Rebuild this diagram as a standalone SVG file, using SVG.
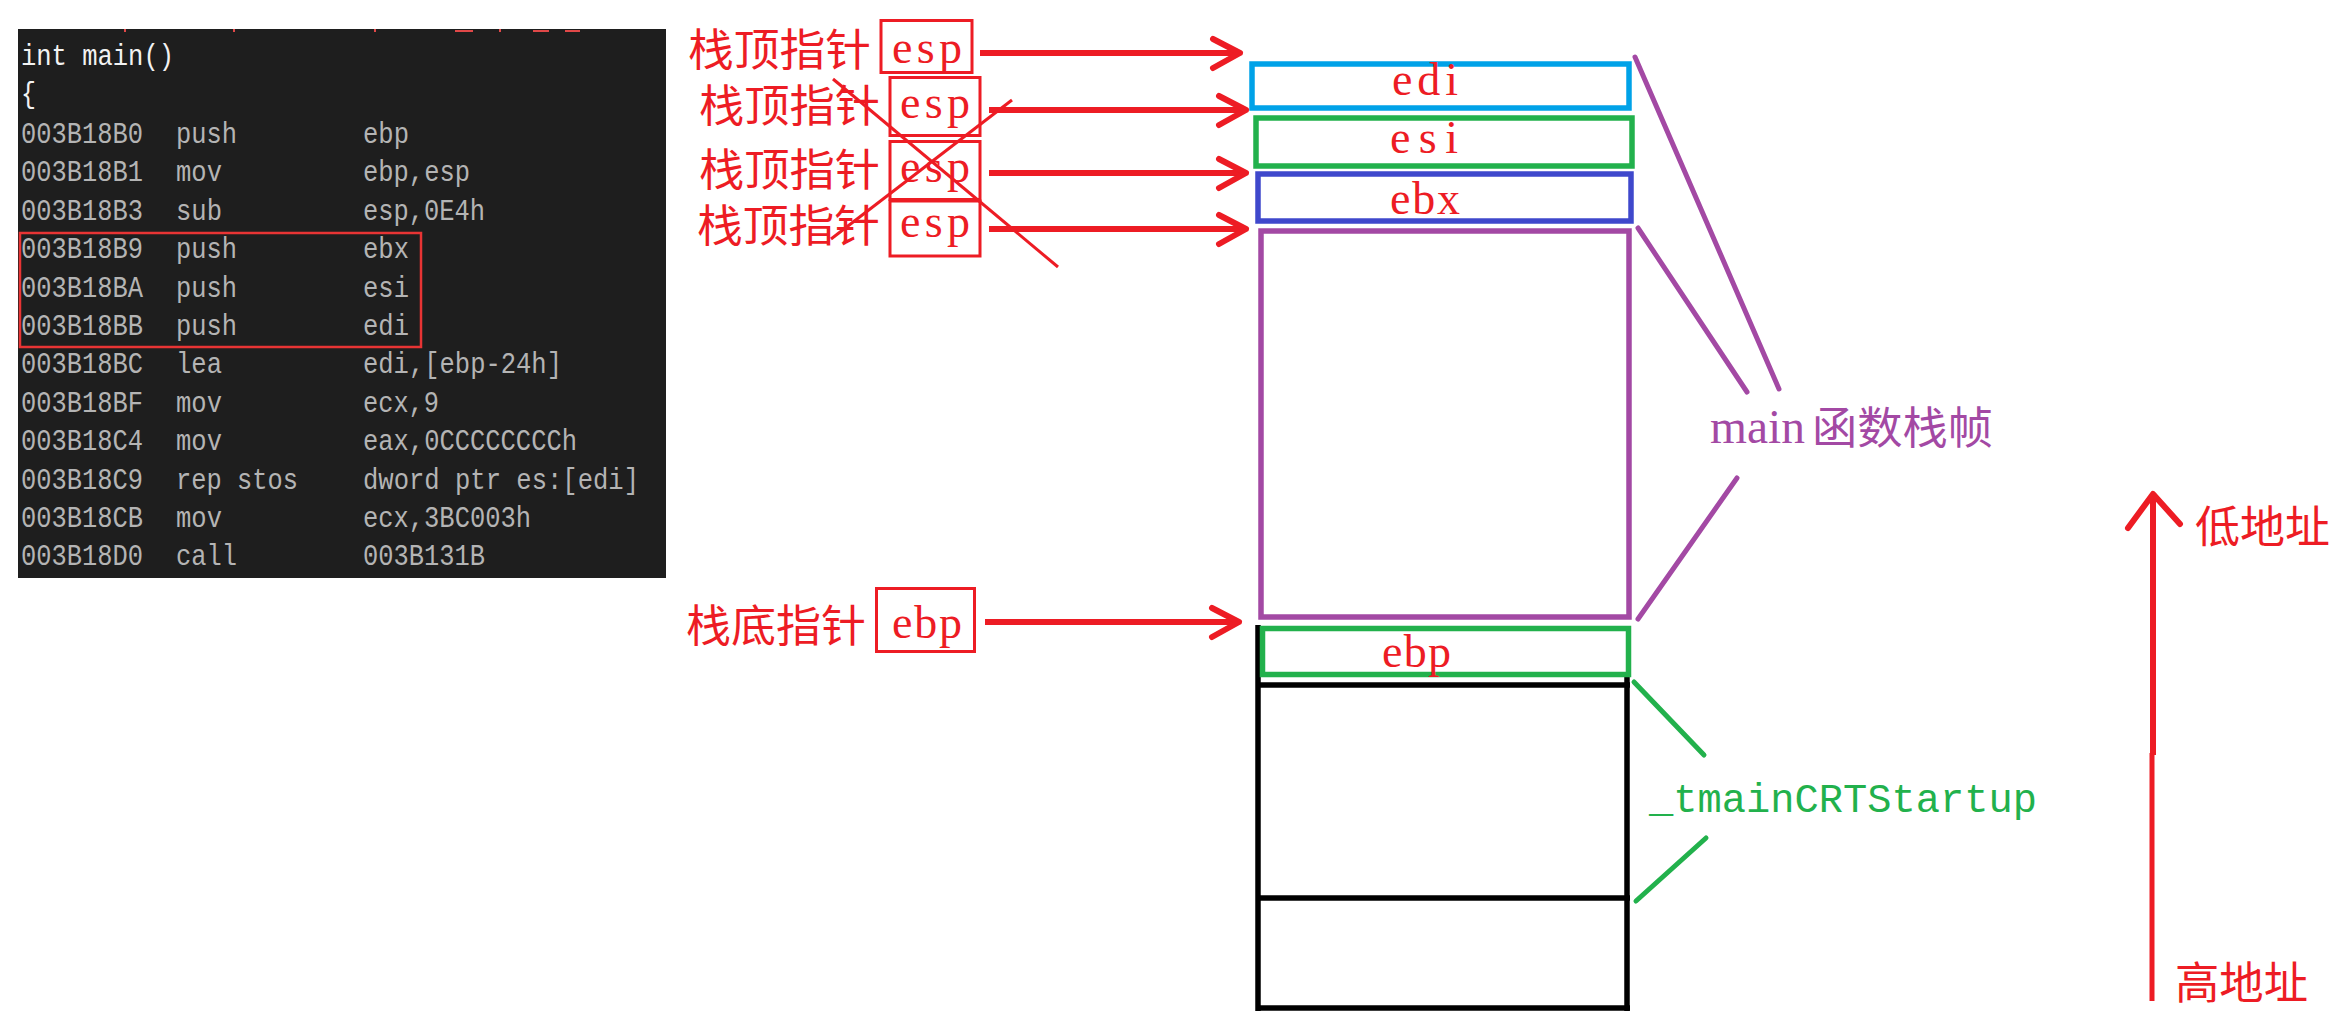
<svg xmlns="http://www.w3.org/2000/svg" width="2345" height="1019" viewBox="0 0 2345 1019">
<style>
.code{font-family:"Liberation Mono",monospace;font-size:29px;fill:#b4b4b4}
.codew{font-family:"Liberation Mono",monospace;font-size:29px;fill:#f2f2f2}
.lbl{font-family:"Noto Sans CJK SC","Noto Sans CJK TC",sans-serif;font-size:44px;fill:#ed1c24}
.reg{font-family:"Liberation Serif",serif;font-size:46px;fill:#ed1c24}
.box{fill:none;stroke:#ed1c24;stroke-width:3}
.arr{fill:none;stroke:#ed1c24;stroke-width:6}
.slot{fill:#ffffff;stroke-width:5.5}
.tick{stroke:#e04848;stroke-width:2}
.pl{fill:none;stroke:#a349a4;stroke-width:5;stroke-linecap:round}
.gl{fill:none;stroke:#22b14c;stroke-width:5;stroke-linecap:round}
.blk{fill:none;stroke:#000000;stroke-width:5.5}
</style>
<defs>
<marker id="chev" markerUnits="userSpaceOnUse" markerWidth="40" markerHeight="40" viewBox="-34 -20 40 40" refX="0" refY="0" orient="auto" overflow="visible">
<path d="M-27,-14 L0,0 L-27,15" fill="none" stroke="#ed1c24" stroke-width="6" stroke-linecap="round" stroke-linejoin="round"/>
</marker>
</defs>
<rect width="2345" height="1019" fill="#ffffff"/>

<g id="code-panel">
<rect x="18" y="29" width="648" height="549" fill="#1e1e1e"/>
<line class="tick" x1="125" y1="29" x2="125" y2="32"/>
<line class="tick" x1="234" y1="29" x2="234" y2="32"/>
<line class="tick" x1="375" y1="29" x2="375" y2="32"/>
<line class="tick" x1="500" y1="29" x2="500" y2="32"/>
<line class="tick" x1="455" y1="31" x2="473" y2="31"/>
<line class="tick" x1="533" y1="31" x2="549" y2="31"/>
<line class="tick" x1="565" y1="31" x2="580" y2="31"/>
<text class="codew" x="21" y="65" textLength="153" lengthAdjust="spacingAndGlyphs">int main()</text>
<text class="codew" x="21" y="103" textLength="15" lengthAdjust="spacingAndGlyphs">{</text>
<g>
<text class="code" x="21" y="143" textLength="122" lengthAdjust="spacingAndGlyphs">003B18B0</text><text class="code" x="176" y="143" textLength="61" lengthAdjust="spacingAndGlyphs">push</text><text class="code" x="363" y="143" textLength="46" lengthAdjust="spacingAndGlyphs">ebp</text>
<text class="code" x="21" y="181.4" textLength="122" lengthAdjust="spacingAndGlyphs">003B18B1</text><text class="code" x="176" y="181.4" textLength="46" lengthAdjust="spacingAndGlyphs">mov</text><text class="code" x="363" y="181.4" textLength="107" lengthAdjust="spacingAndGlyphs">ebp,esp</text>
<text class="code" x="21" y="219.8" textLength="122" lengthAdjust="spacingAndGlyphs">003B18B3</text><text class="code" x="176" y="219.8" textLength="46" lengthAdjust="spacingAndGlyphs">sub</text><text class="code" x="363" y="219.8" textLength="122" lengthAdjust="spacingAndGlyphs">esp,0E4h</text>
<text class="code" x="21" y="258.2" textLength="122" lengthAdjust="spacingAndGlyphs">003B18B9</text><text class="code" x="176" y="258.2" textLength="61" lengthAdjust="spacingAndGlyphs">push</text><text class="code" x="363" y="258.2" textLength="46" lengthAdjust="spacingAndGlyphs">ebx</text>
<text class="code" x="21" y="296.6" textLength="122" lengthAdjust="spacingAndGlyphs">003B18BA</text><text class="code" x="176" y="296.6" textLength="61" lengthAdjust="spacingAndGlyphs">push</text><text class="code" x="363" y="296.6" textLength="46" lengthAdjust="spacingAndGlyphs">esi</text>
<text class="code" x="21" y="335" textLength="122" lengthAdjust="spacingAndGlyphs">003B18BB</text><text class="code" x="176" y="335" textLength="61" lengthAdjust="spacingAndGlyphs">push</text><text class="code" x="363" y="335" textLength="46" lengthAdjust="spacingAndGlyphs">edi</text>
<text class="code" x="21" y="373.4" textLength="122" lengthAdjust="spacingAndGlyphs">003B18BC</text><text class="code" x="176" y="373.4" textLength="46" lengthAdjust="spacingAndGlyphs">lea</text><text class="code" x="363" y="373.4" textLength="199" lengthAdjust="spacingAndGlyphs">edi,[ebp-24h]</text>
<text class="code" x="21" y="411.8" textLength="122" lengthAdjust="spacingAndGlyphs">003B18BF</text><text class="code" x="176" y="411.8" textLength="46" lengthAdjust="spacingAndGlyphs">mov</text><text class="code" x="363" y="411.8" textLength="76" lengthAdjust="spacingAndGlyphs">ecx,9</text>
<text class="code" x="21" y="450.2" textLength="122" lengthAdjust="spacingAndGlyphs">003B18C4</text><text class="code" x="176" y="450.2" textLength="46" lengthAdjust="spacingAndGlyphs">mov</text><text class="code" x="363" y="450.2" textLength="214" lengthAdjust="spacingAndGlyphs">eax,0CCCCCCCCh</text>
<text class="code" x="21" y="488.6" textLength="122" lengthAdjust="spacingAndGlyphs">003B18C9</text><text class="code" x="176" y="488.6" textLength="122" lengthAdjust="spacingAndGlyphs">rep stos</text><text class="code" x="363" y="488.6" textLength="276" lengthAdjust="spacingAndGlyphs">dword ptr es:[edi]</text>
<text class="code" x="21" y="527" textLength="122" lengthAdjust="spacingAndGlyphs">003B18CB</text><text class="code" x="176" y="527" textLength="46" lengthAdjust="spacingAndGlyphs">mov</text><text class="code" x="363" y="527" textLength="168" lengthAdjust="spacingAndGlyphs">ecx,3BC003h</text>
<text class="code" x="21" y="565.4" textLength="122" lengthAdjust="spacingAndGlyphs">003B18D0</text><text class="code" x="176" y="565.4" textLength="61" lengthAdjust="spacingAndGlyphs">call</text><text class="code" x="363" y="565.4" textLength="122" lengthAdjust="spacingAndGlyphs">003B131B</text>
</g>
<rect x="20" y="233" width="401" height="114" fill="none" stroke="#e83434" stroke-width="2.5"/>
</g>

<g id="esp-label-1">
<text class="lbl" x="688" y="47" dominant-baseline="central" textLength="183" lengthAdjust="spacingAndGlyphs">栈顶指针</text>
<rect class="box" x="881" y="20.5" width="91" height="52"/>
<text class="reg" x="892" y="63" textLength="70">esp</text>
</g>
<g id="esp-label-2">
<text class="lbl" x="699" y="103" dominant-baseline="central" textLength="181" lengthAdjust="spacingAndGlyphs">栈顶指针</text>
<rect class="box" x="890" y="77.5" width="90" height="58"/>
<text class="reg" x="900" y="118" textLength="70">esp</text>
</g>
<g id="esp-label-3">
<text class="lbl" x="699" y="167" dominant-baseline="central" textLength="181" lengthAdjust="spacingAndGlyphs">栈顶指针</text>
<rect class="box" x="890" y="141.5" width="90" height="58"/>
<text class="reg" x="900" y="182" textLength="70">esp</text>
</g>
<g id="esp-label-4">
<text class="lbl" x="697" y="223" dominant-baseline="central" textLength="183" lengthAdjust="spacingAndGlyphs">栈顶指针</text>
<rect class="box" x="890" y="201" width="90" height="55"/>
<text class="reg" x="900" y="237" textLength="70">esp</text>
</g>
<g id="ebp-label">
<text class="lbl" x="686" y="623" dominant-baseline="central" textLength="180" lengthAdjust="spacingAndGlyphs">栈底指针</text>
<rect class="box" x="876.5" y="588.5" width="98" height="63"/>
<text class="reg" x="892" y="638" textLength="70">ebp</text>
</g>

<g id="slot-edi">
<rect class="slot" x="1252" y="64" width="377" height="44" stroke="#00a2e8"/>
<text class="reg" x="1392" y="95" textLength="66">edi</text>
</g>
<g id="slot-esi">
<rect class="slot" x="1256" y="118" width="376" height="48" stroke="#22b14c"/>
<text class="reg" x="1390" y="153" textLength="68">esi</text>
</g>
<g id="slot-ebx">
<rect class="slot" x="1258" y="174" width="373" height="47" stroke="#3f48cc"/>
<text class="reg" x="1390" y="214" textLength="70">ebx</text>
</g>
<g id="slot-main-frame">
<rect class="slot" x="1261" y="231" width="368" height="386" stroke="#a349a4"/>
</g>
<g id="crt-frame">
<line class="blk" x1="1258" y1="625" x2="1258" y2="1011"/>
<line class="blk" x1="1627" y1="630" x2="1627" y2="1011"/>
<line class="blk" x1="1256" y1="685" x2="1630" y2="685"/>
<line class="blk" x1="1256" y1="898" x2="1630" y2="898"/>
<line class="blk" x1="1256" y1="1008" x2="1630" y2="1008"/>
</g>
<g id="slot-ebp">
<rect class="slot" x="1262.5" y="628.5" width="366" height="46" stroke="#22b14c"/>
<text class="reg" x="1382" y="667" font-size="40" textLength="69">ebp</text>
</g>

<g id="main-frame-label">
<text x="1710" y="443" font-family="Liberation Serif, serif" font-size="48" fill="#a349a4" textLength="95" lengthAdjust="spacingAndGlyphs">main</text>
<text x="1812" y="425" dominant-baseline="central" font-family="Noto Sans CJK SC, sans-serif" font-size="44" fill="#a349a4" textLength="181" lengthAdjust="spacingAndGlyphs">函数栈帧</text>
</g>
<g id="crt-label">
<text x="1649" y="812" font-family="Liberation Mono, monospace" font-size="40" fill="#22b14c" textLength="388" lengthAdjust="spacingAndGlyphs">_tmainCRTStartup</text>
</g>
<g id="address-labels">
<text class="lbl" x="2195" y="524" dominant-baseline="central" textLength="135" lengthAdjust="spacingAndGlyphs">低地址</text>
<text class="lbl" x="2175" y="980" dominant-baseline="central" textLength="133" lengthAdjust="spacingAndGlyphs">高地址</text>
</g>

<g id="connectors">
<line class="arr" x1="980" y1="53" x2="1240" y2="53" marker-end="url(#chev)"/>
<line class="arr" x1="989" y1="110" x2="1246" y2="110" marker-end="url(#chev)"/>
<line class="arr" x1="989" y1="173" x2="1246" y2="173" marker-end="url(#chev)"/>
<line class="arr" x1="989" y1="229" x2="1246" y2="229" marker-end="url(#chev)"/>
<line class="arr" x1="985" y1="622" x2="1239" y2="622" marker-end="url(#chev)"/>
<line x1="833" y1="79" x2="1058" y2="267" stroke="#ed1c24" stroke-width="3"/>
<line x1="1012" y1="100" x2="831" y2="239" stroke="#ed1c24" stroke-width="3"/>
<line class="pl" x1="1635" y1="57" x2="1779" y2="389"/>
<line class="pl" x1="1638" y1="228" x2="1747" y2="392"/>
<line class="pl" x1="1737" y1="478" x2="1638" y2="619"/>
<line class="gl" x1="1634" y1="682" x2="1704" y2="755"/>
<line class="gl" x1="1706" y1="838" x2="1636" y2="901"/>
<line x1="2152" y1="1001" x2="2152" y2="753" stroke="#ed1c24" stroke-width="5"/>
<line x1="2153" y1="755" x2="2153" y2="496" stroke="#ed1c24" stroke-width="6"/>
<polyline points="2128,528 2153,494 2180,524" fill="none" stroke="#ed1c24" stroke-width="6" stroke-linecap="round" stroke-linejoin="round"/>
</g>
</svg>
